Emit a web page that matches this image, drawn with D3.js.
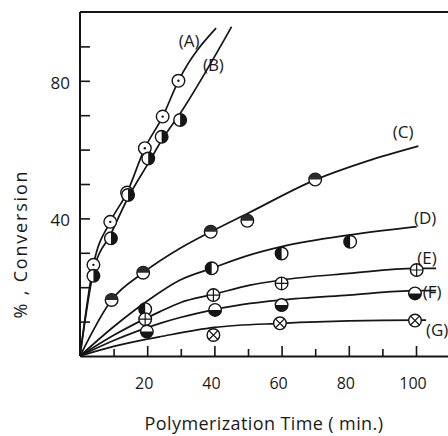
<!DOCTYPE html>
<html><head><meta charset="utf-8">
<script src="https://cdn.jsdelivr.net/npm/d3@7"></script>
<style>
html,body{margin:0;padding:0;background:#fff;}
svg{display:block;}
text{font-family:"Open Sans","DejaVu Sans",sans-serif;fill:#1a1a1a;}
</style></head>
<body>
<svg id="chart" width="448" height="436"></svg>
<script>
// ---- data (time in min, conversion in %) ----
const seriesNames = ["A","B","C","D","E","F","G"];
const curveA = [[0,0],[4,26.5],[9,39],[14,47.5],[19.3,60.4],[24.6,69.6],[29.3,80],[40.5,95.3]];
const curveB = [[0,0],[4,24.5],[9.2,35.5],[14.3,46],[20.3,56],[24.5,63],[29.8,70.5],[45.1,95.7]];
const curveC = [[0,0],[9.4,16.3],[18.8,24.2],[29.8,31.3],[38.9,36.1],[50,41.5],[70,51.2],[85,56.5],[100.7,61]];
const curveD = [[0,0],[10,8.5],[20,16],[29.8,22.1],[39.2,25.5],[50.6,29.4],[60,31.8],[80.4,35.2],[100.2,37.6]];
const curveE = [[0,0],[10,6],[23.8,12.9],[29.8,15.5],[40,18],[50.6,20.6],[60,22.1],[80,24],[100,25.5],[106,25.5]];
const curveF = [[0,0],[10,4.5],[23.8,9.5],[29.8,11.2],[40,13.5],[50.6,15.3],[60,16.3],[80,17.7],[100,19],[106,19]];
const curveG = [[0,0],[10,2.8],[20,4.9],[23.8,5.6],[40,8.3],[60,9.5],[80,10.2],[100,10.4],[103,10.4]];

const pointsA = [[4,26.5],[9,39],[14,47.5],[19.3,60.4],[24.6,69.6],[29.3,80]];
const pointsB = [[4,23.3],[9.2,34.2],[14.3,46.8],[20.3,57.4],[24.3,63.7],[29.8,68.6]];
const pointsC = [[9.4,16.3],[18.8,24.2],[38.9,36.1],[49.8,39.3],[70,51.3]];
const pointsD = [[19.4,13.6],[39.2,25.5],[60,29.8],[80.4,33.2]];
const pointsE = [[19.4,10.7],[39.7,17.7],[60,21.1],[100.2,25]];
const pointsF = [[19.9,7.1],[40.2,13.4],[60,14.8],[99.7,18.2]];
const pointsG = [[39.7,6.1],[59.5,9.5],[99.7,10.3]];

const curveLabels = ["(A)","(B)","(C)","(D)","(E)","(F)","(G)"];
const labelPos = [[32.5,91.5],[39.7,84.5],[96.2,65],[102.7,40],[103.3,28.5],[104.8,18.5],[106.3,7.5]];

const xTicks = [10,20,30,40,50,60,70,80,90,100];
const xTickLabels = [20,40,60,80,100];
const yTicks = [10,20,30,40,50,60,70,80,90];
const yTickLabels = [40,80];
const xTitle = "Polymerization Time ( min.)";
const yTitle = "% , Conversion";

// ---- drawing ----
const svg = d3.select("#chart");
const x = d3.scaleLinear().domain([0,110]).range([80,449.6]);
const y = d3.scaleLinear().domain([0,100]).range([356,12]);
const ink = "#151515";

// frame
svg.append("path").attr("d", d3.line()([[x(0),y(100)],[x(110),y(100)]]))
  .attr("stroke",ink).attr("stroke-width",2).attr("fill","none");

// axes with inward ticks
const xAxis = d3.axisTop(x).tickValues(xTicks).tickSize(0).tickFormat("");
const gx = svg.append("g").attr("transform",`translate(0,${y(0)})`).call(xAxis);
gx.select(".domain").attr("stroke",ink).attr("stroke-width",2);
gx.selectAll(".tick").append("line").attr("y2", d=> d%20===0 ? -10 : -7)
  .attr("stroke",ink).attr("stroke-width",1.6);
svg.append("g").selectAll("text").data(xTickLabels).join("text")
  .attr("x",d=>x(d)-3).attr("y",y(0)+33).attr("text-anchor","middle")
  .attr("font-size",16).text(d=>d);

const yAxis = d3.axisRight(y).tickValues(yTicks).tickSize(0).tickFormat("");
const gy = svg.append("g").attr("transform",`translate(${x(0)},0)`).call(yAxis);
gy.select(".domain").attr("stroke",ink).attr("stroke-width",2).attr("d",`M0,${y(0)}V${y(100)}`);
gy.selectAll(".tick").append("line").attr("x2",10).attr("stroke",ink).attr("stroke-width",1.6);
svg.append("g").selectAll("text").data(yTickLabels).join("text")
  .attr("x",x(0)-10).attr("y",d=>y(d)+8).attr("text-anchor","end")
  .attr("font-size",17).text(d=>d);

// titles
svg.append("text").attr("x",264).attr("y",430).attr("text-anchor","middle")
  .attr("font-size",18).attr("letter-spacing",0.4).text(xTitle);
svg.append("text").attr("transform",`translate(27,244) rotate(-90)`).attr("text-anchor","middle")
  .attr("font-size",18).attr("letter-spacing",1.8).text(yTitle);

// curves
const curves = [curveA,curveB,curveC,curveD,curveE,curveF,curveG];
const line = d3.line().x(d=>x(d[0])).y(d=>y(d[1])).curve(d3.curveMonotoneX);
svg.append("g").selectAll("path").data(curves).join("path")
  .attr("d",line).attr("fill","none").attr("stroke",ink).attr("stroke-width",1.7);

// markers
const r = 6.3;
const arc = d3.arc().innerRadius(0).outerRadius(r);
const halfFill = {B:[0,Math.PI], C:[-Math.PI/2,Math.PI/2], D:[Math.PI,2*Math.PI], F:[Math.PI/2,3*Math.PI/2]};
const pts = [pointsA,pointsB,pointsC,pointsD,pointsE,pointsF,pointsG];
pts.forEach((arr,i)=>{
  const name = seriesNames[i];
  const g = svg.append("g").selectAll("g").data(arr).join("g")
    .attr("transform",d=>`translate(${x(d[0])},${y(d[1])})`);
  g.append("circle").attr("r",r).attr("fill","#fff").attr("stroke",ink).attr("stroke-width",1.4);
  if (halfFill[name]) {
    const [a0,a1] = halfFill[name];
    g.append("path").attr("d",arc({startAngle:a0,endAngle:a1})).attr("fill", name==="C" ? "#2a2a2a" : ink);
  }
  if (name==="A") g.append("circle").attr("r",1.2).attr("fill",ink);
  if (name==="E") {
    g.append("path").attr("d",`M${-r},0H${r}M0,${-r}V${r}`).attr("stroke",ink).attr("stroke-width",1.2);
  }
  if (name==="G") {
    const k = r*0.707;
    g.append("path").attr("d",`M${-k},${-k}L${k},${k}M${-k},${k}L${k},${-k}`).attr("stroke",ink).attr("stroke-width",1.2);
  }
});

// curve labels
svg.append("g").selectAll("text").data(curveLabels).join("text")
  .attr("x",(d,i)=>x(labelPos[i][0])).attr("y",(d,i)=>y(labelPos[i][1])+6)
  .attr("text-anchor","middle").attr("font-size",17).text(d=>d);
</script>
</body></html>
